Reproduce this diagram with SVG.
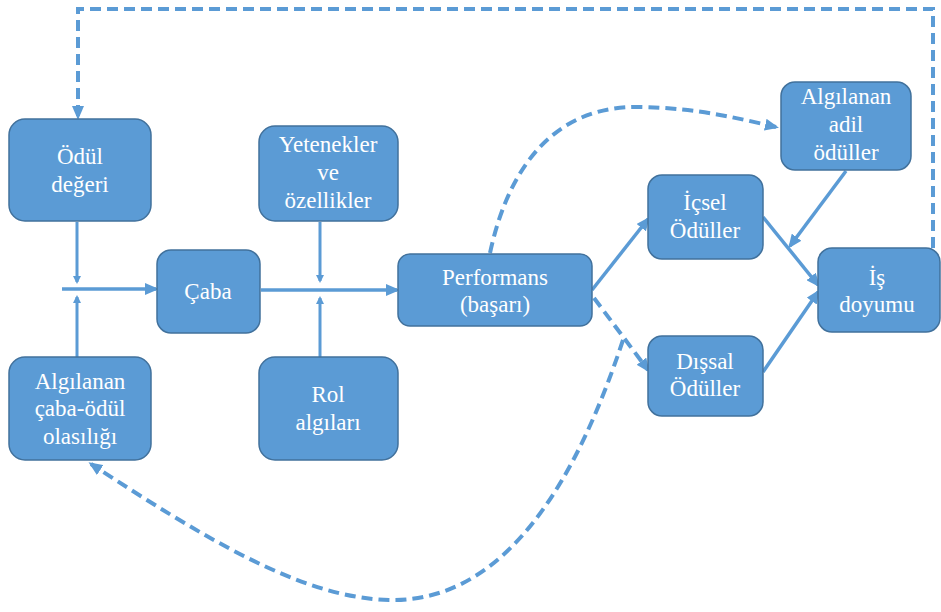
<svg xmlns="http://www.w3.org/2000/svg" width="941" height="612" viewBox="0 0 941 612">
<style>
.box{fill:#5B9BD5;stroke:#41719C;stroke-width:1.5}
.t{font-family:'Liberation Serif','Times New Roman','DejaVu Serif',serif;font-size:23px;fill:#ffffff;text-anchor:middle}
.c{fill:none;stroke:#5B9BD5;stroke-width:3.5}
.d{stroke-width:4;stroke-dasharray:11 6}
</style>
<defs>
<marker id="ah" markerUnits="userSpaceOnUse" markerWidth="14" markerHeight="12" refX="11" refY="6" orient="auto">
<path d="M0,0 L14,6 L0,12 z" fill="#5B9BD5"/>
</marker>
<marker id="as" markerUnits="userSpaceOnUse" markerWidth="8" markerHeight="8" refX="6" refY="4" orient="auto">
<path d="M0,0 L8,4 L0,8 z" fill="#5B9BD5"/>
</marker>
</defs>
<g id="connectors">
<path class="c" d="M77,222 L77,282" marker-end="url(#as)" style="stroke-width:3"/>
<path class="c" d="M77,357 L77,297" marker-end="url(#as)" style="stroke-width:3"/>
<path class="c" d="M62,289 L156,289" marker-end="url(#ah)"/>
<path class="c" d="M320,222 L320,281" marker-end="url(#as)" style="stroke-width:3"/>
<path class="c" d="M320,357 L320,298" marker-end="url(#as)" style="stroke-width:3"/>
<path class="c" d="M261,290 L397,290" marker-end="url(#ah)"/>
<path class="c" d="M592,290 L648,219" marker-end="url(#ah)"/>
<path class="c d" d="M594,298 L648,370" marker-end="url(#ah)"/>
<path class="c" d="M763,217 L818,285" marker-end="url(#ah)"/>
<path class="c" d="M763,372 L818,292" marker-end="url(#ah)"/>
<path class="c" d="M846,171 L790,246" marker-end="url(#ah)"/>
<path class="c d" d="M490,253 C510,160 560,105 640,107 C700,108 740,119 776,127" marker-end="url(#ah)"/>
<path class="c d" d="M933,248 L933,9 L78,9 L78,117" marker-end="url(#ah)"/>
<path class="c d" d="M623,340 C580,470 510,603 389,600 C300,598 200,535 91,464" marker-end="url(#ah)"/>
</g>
<g id="odul-degeri"><rect class="box" x="9" y="119" width="142" height="102" rx="16"/><text class="t" x="80" y="164">Ödül</text><text class="t" x="80" y="192">değeri</text></g>
<g id="algilanan-caba"><rect class="box" x="9" y="357" width="142" height="103" rx="16"/><text class="t" x="80" y="389">Algılanan</text><text class="t" x="80" y="416">çaba-ödül</text><text class="t" x="80" y="444">olasılığı</text></g>
<g id="caba"><rect class="box" x="157" y="250" width="103" height="83" rx="14"/><text class="t" x="208" y="299">Çaba</text></g>
<g id="yetenekler"><rect class="box" x="259" y="126" width="139" height="95" rx="16"/><text class="t" x="328" y="152">Yetenekler</text><text class="t" x="328" y="180">ve</text><text class="t" x="328" y="208">özellikler</text></g>
<g id="rol"><rect class="box" x="259" y="357" width="139" height="103" rx="16"/><text class="t" x="328" y="402">Rol</text><text class="t" x="328" y="430">algıları</text></g>
<g id="performans"><rect class="box" x="398" y="254" width="194" height="72" rx="12"/><text class="t" x="495" y="285">Performans</text><text class="t" x="495" y="312">(başarı)</text></g>
<g id="icsel"><rect class="box" x="648" y="175" width="115" height="84" rx="14"/><text class="t" x="705" y="210">İçsel</text><text class="t" x="705" y="238">Ödüller</text></g>
<g id="dissal"><rect class="box" x="648" y="336" width="115" height="80" rx="14"/><text class="t" x="705" y="369">Dışsal</text><text class="t" x="705" y="396">Ödüller</text></g>
<g id="adil"><rect class="box" x="781" y="82" width="130" height="88" rx="14"/><text class="t" x="846" y="104">Algılanan</text><text class="t" x="846" y="132">adil</text><text class="t" x="846" y="160">ödüller</text></g>
<g id="is-doyumu"><rect class="box" x="818" y="248" width="122" height="84" rx="14"/><text class="t" x="877" y="285">İş</text><text class="t" x="877" y="312">doyumu</text></g>
</svg>
